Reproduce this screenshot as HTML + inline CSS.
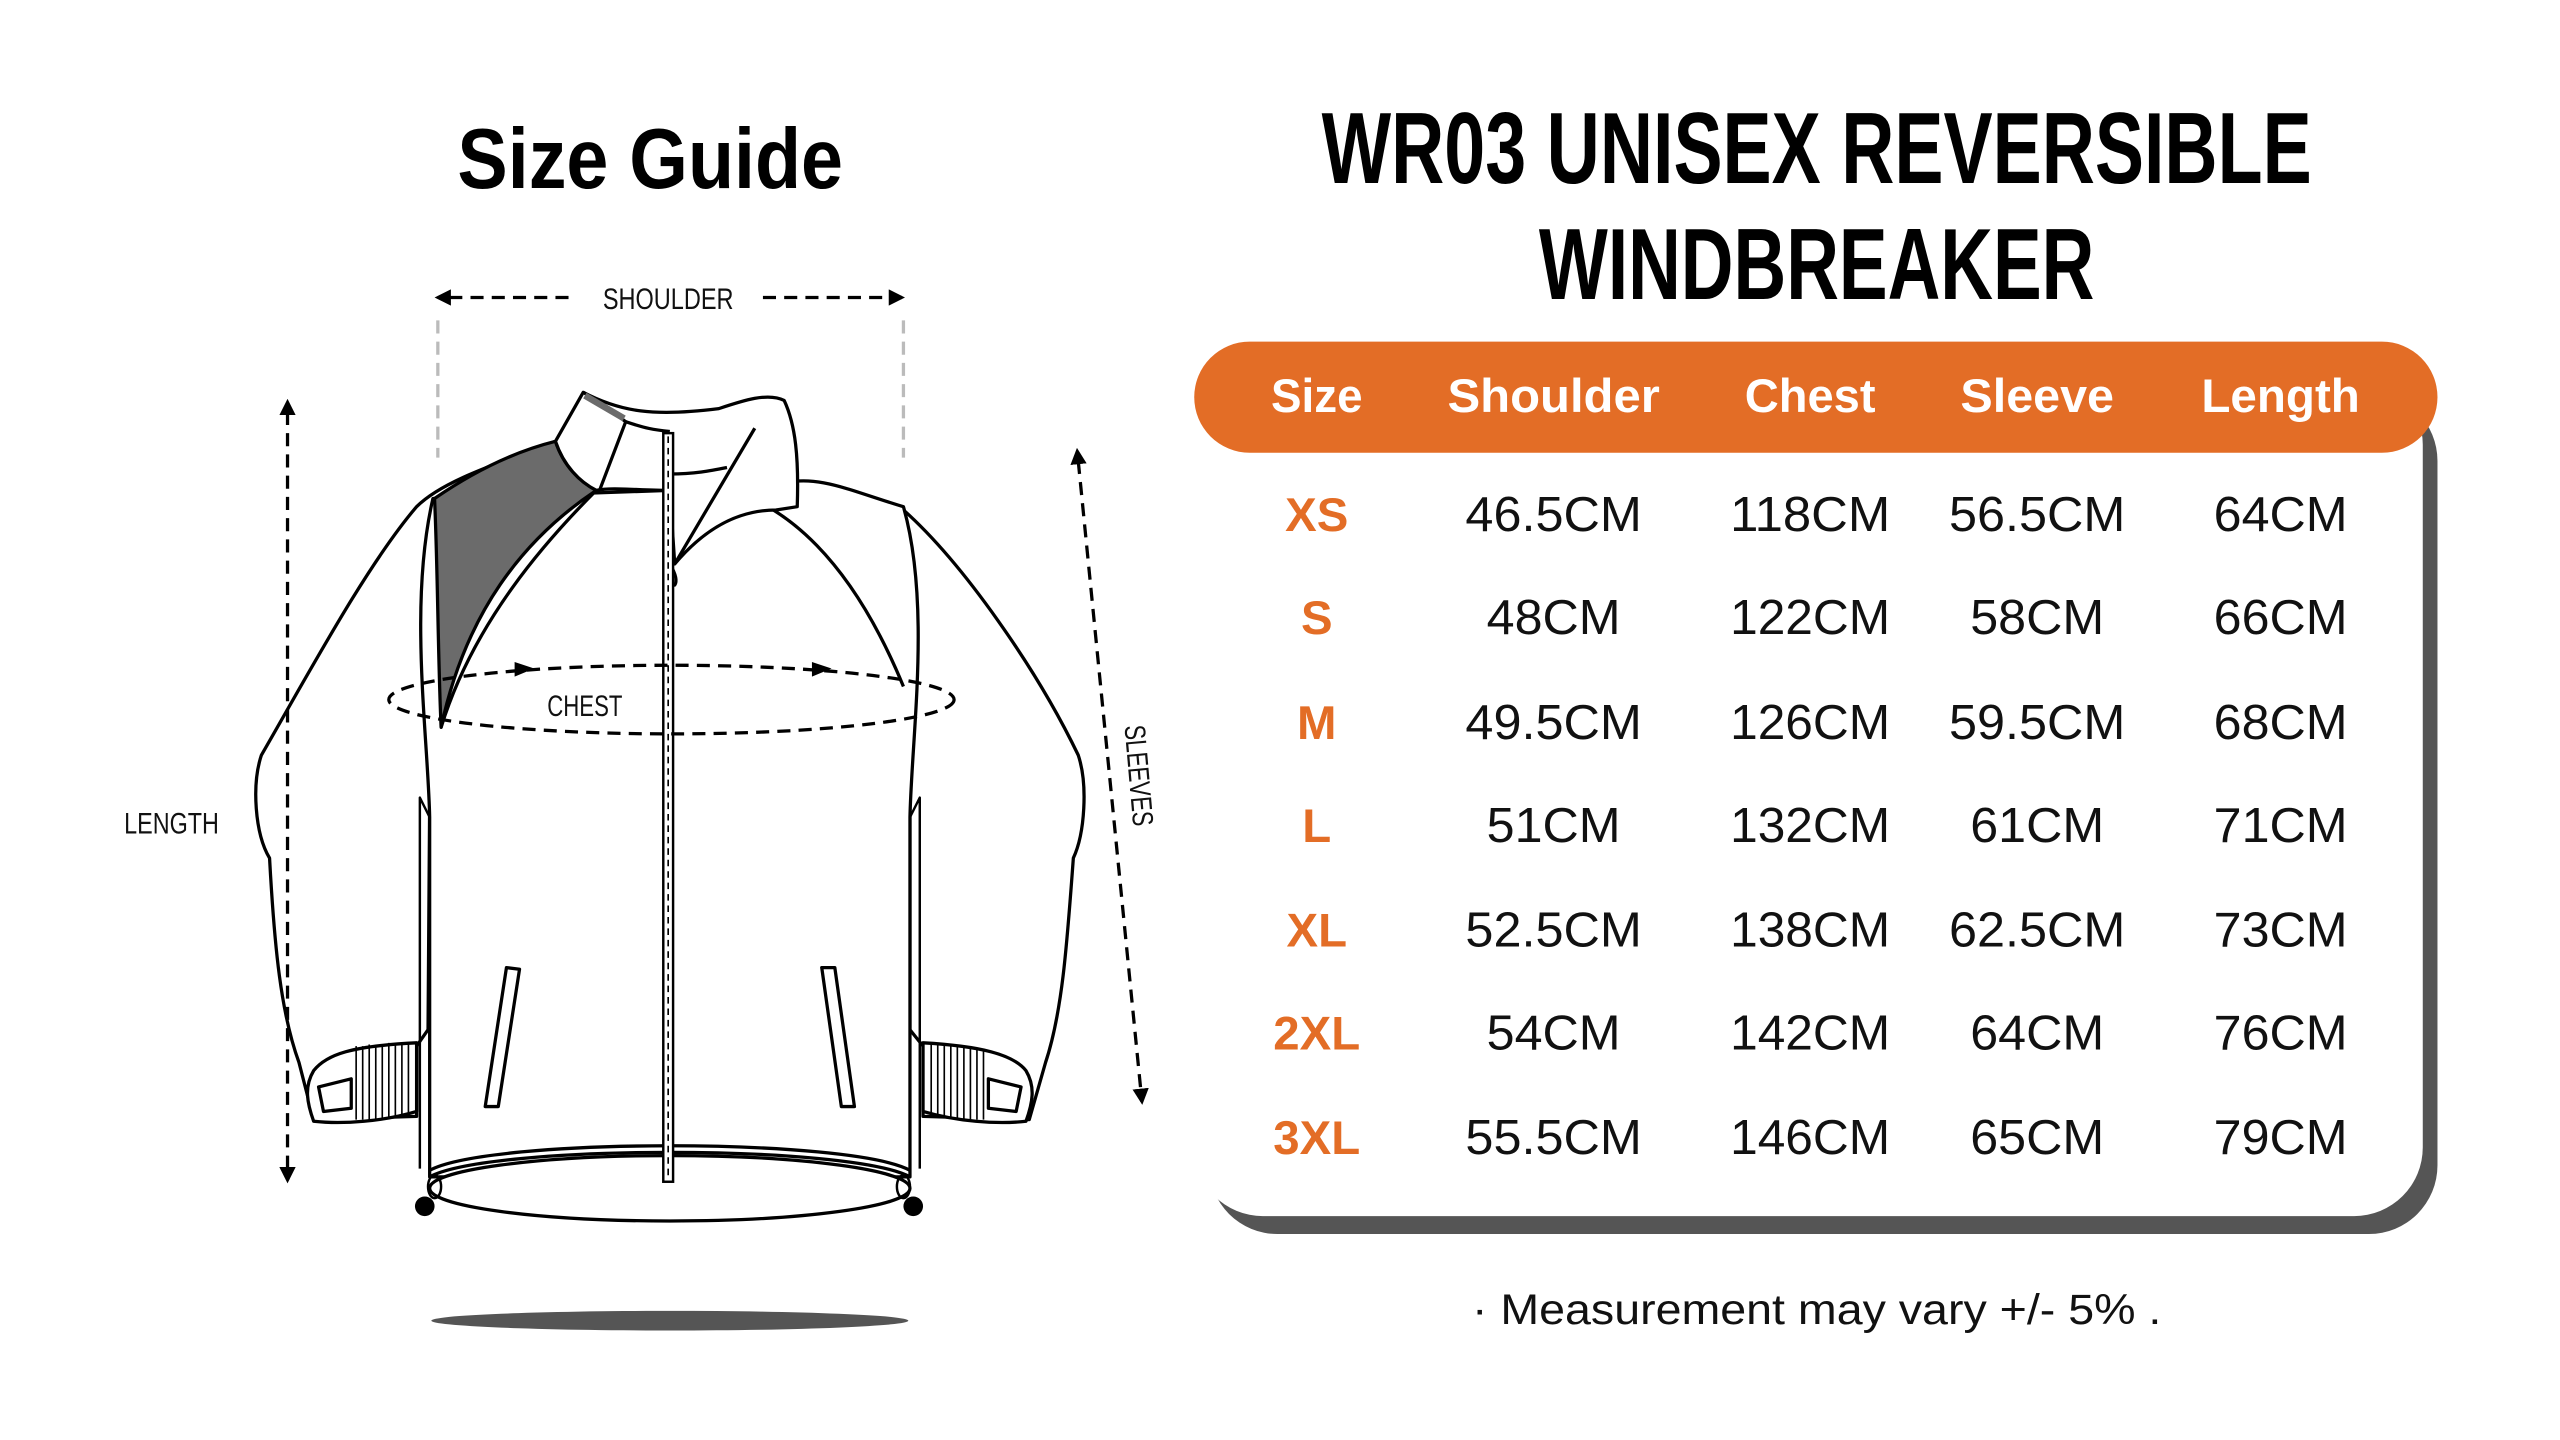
<!DOCTYPE html>
<html><head><meta charset="utf-8"><style>
html,body{margin:0;padding:0;background:#fff;width:2560px;height:1440px;overflow:hidden}
svg{display:block}
text{font-family:"Liberation Sans",sans-serif}
</style></head><body>
<svg width="2560" height="1440" viewBox="0 0 1567 881" preserveAspectRatio="none" xmlns="http://www.w3.org/2000/svg">
<defs>
<marker id="ah" markerWidth="10" markerHeight="10" refX="8" refY="5" orient="auto" markerUnits="userSpaceOnUse"><path d="M0,0 L10,5 L0,10 Z" fill="#000"/></marker>
<marker id="ahs" markerWidth="10" markerHeight="10" refX="2" refY="5" orient="auto-start-reverse" markerUnits="userSpaceOnUse"><path d="M0,0 L10,5 L0,10 Z" fill="#000"/></marker>
</defs>

<text x="398" y="115" text-anchor="middle" font-weight="bold" font-size="52" textLength="236" lengthAdjust="spacingAndGlyphs">Size Guide</text>
<text x="1112" y="112" text-anchor="middle" font-weight="bold" font-size="62" textLength="606" lengthAdjust="spacingAndGlyphs">WR03 UNISEX REVERSIBLE</text>
<text x="1112" y="183" text-anchor="middle" font-weight="bold" font-size="62" textLength="340" lengthAdjust="spacingAndGlyphs">WINDBREAKER</text>

<rect x="740" y="240" width="752" height="515" rx="42" fill="#555"/>
<rect x="731" y="230" width="752" height="514" rx="42" fill="#fff"/>
<rect x="731" y="209" width="761" height="68" rx="34" fill="#e36d26"/>
<g font-weight="bold" font-size="29" fill="#fff" text-anchor="middle">
<text x="806" y="252" textLength="56" lengthAdjust="spacingAndGlyphs">Size</text>
<text x="951" y="252" textLength="130" lengthAdjust="spacingAndGlyphs">Shoulder</text>
<text x="1108" y="252" textLength="80" lengthAdjust="spacingAndGlyphs">Chest</text>
<text x="1247" y="252" textLength="94" lengthAdjust="spacingAndGlyphs">Sleeve</text>
<text x="1396" y="252" textLength="97" lengthAdjust="spacingAndGlyphs">Length</text>
</g>
<g font-weight="bold" font-size="29" fill="#e36d26" text-anchor="middle">
<text x="806" y="325">XS</text><text x="806" y="388">S</text><text x="806" y="452">M</text><text x="806" y="515">L</text><text x="806" y="579">XL</text><text x="806" y="642">2XL</text><text x="806" y="706">3XL</text>
</g>
<g font-size="30" fill="#111" text-anchor="middle">
<text x="951" y="325" textLength="108" lengthAdjust="spacingAndGlyphs">46.5CM</text>
<text x="951" y="388" textLength="82" lengthAdjust="spacingAndGlyphs">48CM</text>
<text x="951" y="452" textLength="108" lengthAdjust="spacingAndGlyphs">49.5CM</text>
<text x="951" y="515" textLength="82" lengthAdjust="spacingAndGlyphs">51CM</text>
<text x="951" y="579" textLength="108" lengthAdjust="spacingAndGlyphs">52.5CM</text>
<text x="951" y="642" textLength="82" lengthAdjust="spacingAndGlyphs">54CM</text>
<text x="951" y="706" textLength="108" lengthAdjust="spacingAndGlyphs">55.5CM</text>

<text x="1108" y="325" textLength="98" lengthAdjust="spacingAndGlyphs">118CM</text>
<text x="1108" y="388" textLength="98" lengthAdjust="spacingAndGlyphs">122CM</text>
<text x="1108" y="452" textLength="98" lengthAdjust="spacingAndGlyphs">126CM</text>
<text x="1108" y="515" textLength="98" lengthAdjust="spacingAndGlyphs">132CM</text>
<text x="1108" y="579" textLength="98" lengthAdjust="spacingAndGlyphs">138CM</text>
<text x="1108" y="642" textLength="98" lengthAdjust="spacingAndGlyphs">142CM</text>
<text x="1108" y="706" textLength="98" lengthAdjust="spacingAndGlyphs">146CM</text>

<text x="1247" y="325" textLength="108" lengthAdjust="spacingAndGlyphs">56.5CM</text>
<text x="1247" y="388" textLength="82" lengthAdjust="spacingAndGlyphs">58CM</text>
<text x="1247" y="452" textLength="108" lengthAdjust="spacingAndGlyphs">59.5CM</text>
<text x="1247" y="515" textLength="82" lengthAdjust="spacingAndGlyphs">61CM</text>
<text x="1247" y="579" textLength="108" lengthAdjust="spacingAndGlyphs">62.5CM</text>
<text x="1247" y="642" textLength="82" lengthAdjust="spacingAndGlyphs">64CM</text>
<text x="1247" y="706" textLength="82" lengthAdjust="spacingAndGlyphs">65CM</text>

<text x="1396" y="325" textLength="82" lengthAdjust="spacingAndGlyphs">64CM</text>
<text x="1396" y="388" textLength="82" lengthAdjust="spacingAndGlyphs">66CM</text>
<text x="1396" y="452" textLength="82" lengthAdjust="spacingAndGlyphs">68CM</text>
<text x="1396" y="515" textLength="82" lengthAdjust="spacingAndGlyphs">71CM</text>
<text x="1396" y="579" textLength="82" lengthAdjust="spacingAndGlyphs">73CM</text>
<text x="1396" y="642" textLength="82" lengthAdjust="spacingAndGlyphs">76CM</text>
<text x="1396" y="706" textLength="82" lengthAdjust="spacingAndGlyphs">79CM</text>
</g>
<text x="1112" y="810" text-anchor="middle" font-size="26" fill="#111" textLength="422" lengthAdjust="spacingAndGlyphs">· Measurement may vary +/- 5% .</text>

<g fill="#fff" stroke="#000" stroke-width="2" stroke-linejoin="round">
<path d="M340,270 C300,285 270,295 255,310 C225,345 190,410 160,462 C154,480 156,510 165,525 C168,580 172,620 183,650 L192,685 L255,683 L255,640 L262,630 L263,490 Z"/>
<path d="M478,296 C510,300 535,305 553,312 C590,345 635,410 660,462 C666,480 664,510 657,525 C653,580 650,620 640,650 L630,685 L565,683 L565,640 L557,630 L557,490 Z"/>
<path d="M265,305 C250,370 262,450 263,500 L263,720 L557,720 L557,500 C558,450 570,370 553,310 C520,300 500,290 478,296 L410,300 Z"/>
<path d="M266,305 C295,285 320,275 340,270 C345,285 355,295 365,300 C320,330 285,375 270,445 C268,400 268,350 266,305 Z" fill="#6b6b6b"/>
<path d="M365,300 C335,330 290,380 270,445" fill="none"/>
<path d="M447,300 C480,310 520,340 553,420" fill="none"/>
<path d="M340,270 L357,240 C380,252 400,255 440,250 C455,245 470,240 480,245 C487,260 489,280 488,310 L475,312 C450,312 430,325 413,345 L410,300 C390,300 375,298 365,300 C355,295 345,285 340,270 Z"/>
<path d="M357,240 C365,245 375,252 383,258 L367,300" fill="none"/>
<path d="M358,242 L382,256" stroke="#6b6b6b" stroke-width="4"/>
<path d="M383,258 C395,262 400,263 410,264" fill="none"/>
<path d="M462,262 L413,345" fill="none"/>
<path d="M410,290 C425,290 435,288 445,286" fill="none"/>
<path d="M410,345 C413,350 415,355 413,358 C410,358 409,352 410,345" fill="none"/>
<path d="M263,500 L257,488 L257,715" fill="none" stroke-width="1.5"/>
<path d="M557,500 L563,488 L563,715" fill="none" stroke-width="1.5"/>
<path d="M310,592 L318,593 L305,677 L297,677 Z"/>
<path d="M503,592 L511,592 L523,677 L515,677 Z"/>
<path d="M192,655 C200,645 215,640 255,638 L255,680 C235,686 210,688 192,686 C188,675 186,665 192,655 Z"/>
<path d="M565,638 C600,640 620,645 628,655 C634,665 632,675 628,686 C610,688 585,686 565,680 Z"/>
<path d="M195,665 L215,660 L215,678 L198,680 Z"/>
<path d="M605,660 L625,665 L622,680 L605,678 Z"/>
</g>
<g stroke="#000" stroke-width="1">
<path d="M218,640 V685 M222,640 V685 M226,639 V685 M230,639 V685 M234,639 V685 M238,638 V684 M242,638 V684 M246,638 V684 M250,638 V683"/>
<path d="M570,638 V682 M574,638 V683 M578,639 V684 M582,639 V684 M586,640 V684 M590,640 V685 M594,641 V685 M598,642 V685 M602,643 V685"/>
</g>
<ellipse cx="410" cy="727" rx="147" ry="20" fill="#fff" stroke="#000" stroke-width="2"/>
<path d="M263,720 C300,700 520,700 557,720" fill="none" stroke="#000" stroke-width="2"/>
<path d="M263,716 C300,696 520,696 557,716" fill="none" stroke="#000" stroke-width="2"/>
<circle cx="260" cy="738" r="6"/><circle cx="559" cy="738" r="6"/>
<ellipse cx="266" cy="726" rx="4" ry="7" fill="none" stroke="#000" stroke-width="1.5"/>
<ellipse cx="553" cy="726" rx="4" ry="7" fill="none" stroke="#000" stroke-width="1.5"/>
<rect x="406" y="265" width="6" height="458" fill="#fff" stroke="#000" stroke-width="1.5"/>
<line x1="409" y1="267" x2="409" y2="721" stroke="#000" stroke-width="1" stroke-dasharray="4,3"/>
<ellipse cx="410" cy="808" rx="146" ry="6" fill="#555"/>

<g stroke="#000" stroke-width="2" stroke-dasharray="8,5" fill="none">
<line x1="348" y1="182" x2="268" y2="182" marker-end="url(#ah)"/>
<line x1="467" y1="182" x2="552" y2="182" marker-end="url(#ah)"/>
<line x1="176" y1="252" x2="176" y2="722" marker-start="url(#ahs)" marker-end="url(#ah)"/>
<line x1="660" y1="282" x2="699" y2="674" marker-start="url(#ahs)" marker-end="url(#ah)"/>
<ellipse cx="411" cy="428" rx="173" ry="21"/>
</g>
<path d="M315,405 L327,409 L315,414 Z M497,405 L509,409 L497,414 Z" fill="#000"/>
<g stroke="#bbb" stroke-width="2" stroke-dasharray="8,5">
<line x1="268" y1="196" x2="268" y2="280"/>
<line x1="553" y1="196" x2="553" y2="280"/>
</g>
<g font-size="18" fill="#111">
<text x="409" y="189" text-anchor="middle" textLength="80" lengthAdjust="spacingAndGlyphs">SHOULDER</text>
<text x="358" y="438" text-anchor="middle" textLength="46" lengthAdjust="spacingAndGlyphs">CHEST</text>
<text x="105" y="510" text-anchor="middle" textLength="58" lengthAdjust="spacingAndGlyphs">LENGTH</text>
<text transform="translate(691,475) rotate(85)" text-anchor="middle" textLength="62" lengthAdjust="spacingAndGlyphs">SLEEVES</text>
</g>
</svg>
</body></html>
